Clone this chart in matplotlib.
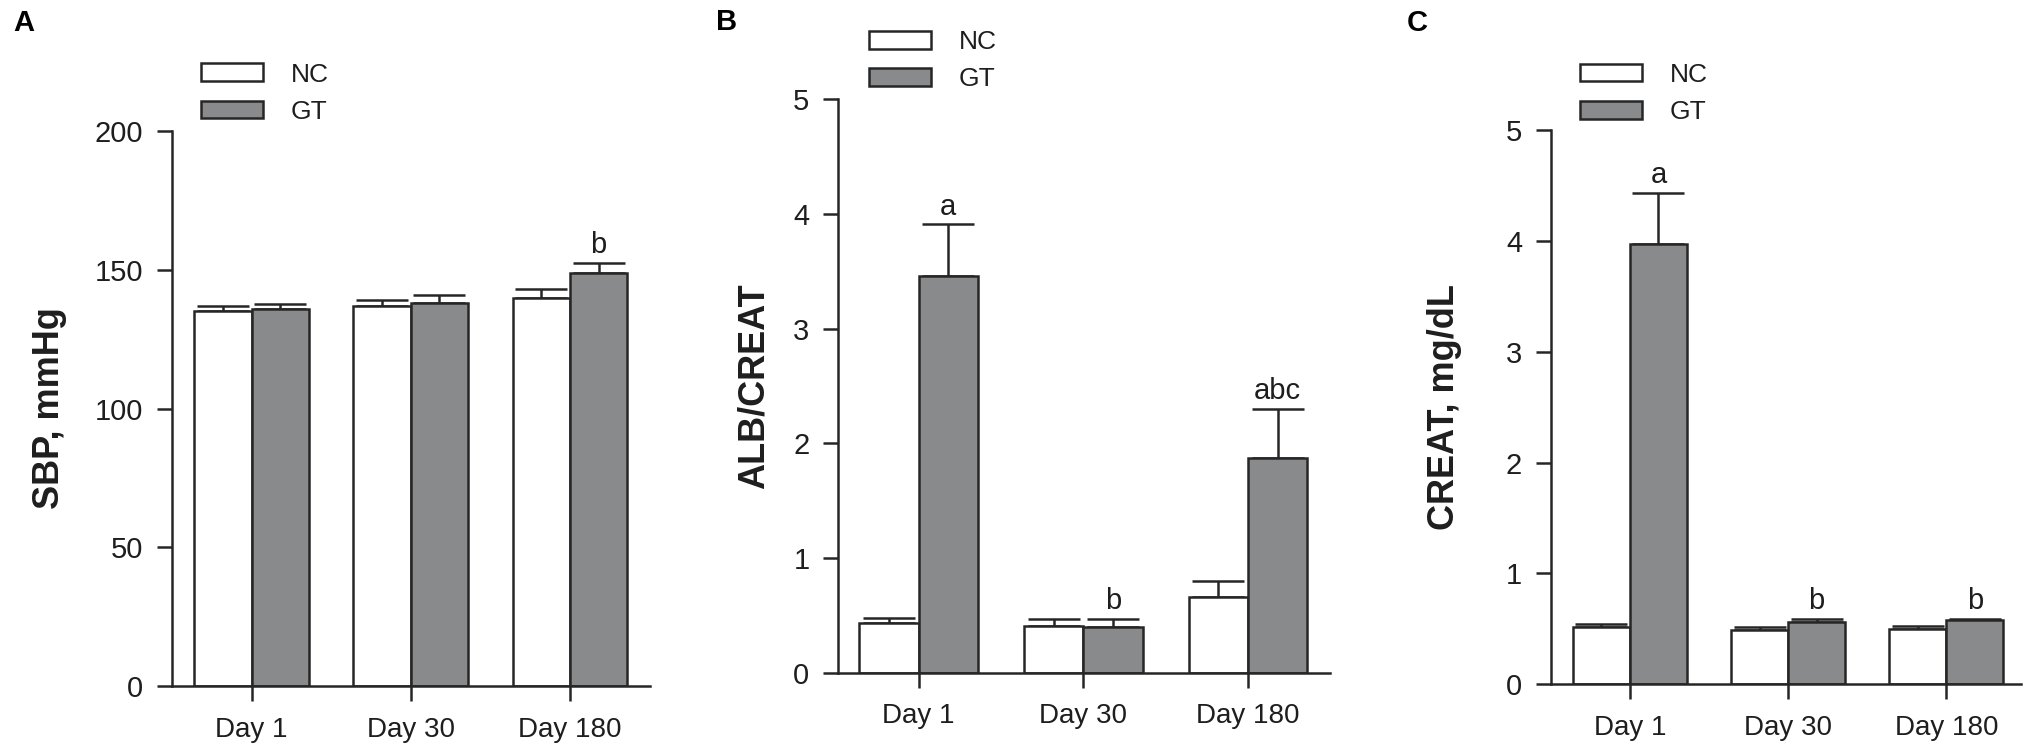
import matplotlib
matplotlib.use("Agg")
import matplotlib.pyplot as plt
import numpy as np

plt.rcParams['font.family'] = ['Liberation Sans', 'DejaVu Sans']

# ---------------- data ----------------
categories = ['Day 1', 'Day 30', 'Day 180']
groups = ['NC', 'GT']

sbp_nc = [135, 137, 140]
sbp_nc_err = [2.0, 2.0, 3.0]
sbp_gt = [136, 138, 149]
sbp_gt_err = [1.8, 3.0, 3.6]
sbp_marks = ['', '', 'b']

alb_nc = [0.43, 0.41, 0.66]
alb_nc_err = [0.05, 0.06, 0.14]
alb_gt = [3.46, 0.40, 1.87]
alb_gt_err = [0.45, 0.07, 0.43]
alb_marks = ['a', 'b', 'abc']

creat_nc = [0.52, 0.49, 0.50]
creat_nc_err = [0.02, 0.03, 0.03]
creat_gt = [3.97, 0.56, 0.58]
creat_gt_err = [0.46, 0.03, 0.01]
creat_marks = ['a', 'b', 'b']

sbp_ticks = [0, 50, 100, 150, 200]
ratio_ticks = [0, 1, 2, 3, 4, 5]

# ---------------- style ----------------
W, H = 2033, 754
EDGE = '#262626'
GRAY = '#898a8c'
LW = 1.8
TXT = '#1e1e1e'

fig = plt.figure(figsize=(W / 100, H / 100), dpi=100)

def px_rect(left, right, bottom, top):
    return [left / W, 1 - bottom / H, (right - left) / W, (bottom - top) / H]

panels = [
    dict(rect=px_rect(172, 649.6, 686, 131), nc=sbp_nc, nce=sbp_nc_err, gt=sbp_gt,
         gte=sbp_gt_err, marks=sbp_marks, ylim=(0, 200), ticks=sbp_ticks,
         ylabel='SBP, mmHg', labx=-0.2575, letter='A', letpos=(24, 23),
         leg=(201, 62.5), xlim=(-0.5, 2.5)),
    dict(rect=px_rect(838, 1330.5, 672.7, 99.3), nc=alb_nc, nce=alb_nc_err, gt=alb_gt,
         gte=alb_gt_err, marks=alb_marks, ylim=(0, 5), ticks=ratio_ticks,
         ylabel='ALB/CREAT', labx=-0.1706, letter='B', letpos=(727, 22),
         leg=(869, 30.2), xlim=(-0.49, 2.5)),
    dict(rect=px_rect(1550.8, 2020.8, 684.3, 130), nc=creat_nc, nce=creat_nc_err, gt=creat_gt,
         gte=creat_gt_err, marks=creat_marks, ylim=(0, 5), ticks=ratio_ticks,
         ylabel='CREAT, mg/dL', labx=-0.226, letter='C', letpos=(1417, 23),
         leg=(1580, 62.8), xlim=(-0.5, 2.47)),
]

bw = 0.36
for p in panels:
    ax = fig.add_axes(p['rect'])
    x = np.arange(len(categories))
    b1 = ax.bar(x - bw / 2, p['nc'], bw, color='white', edgecolor=EDGE, linewidth=LW,
                zorder=2, label=groups[0])
    b2 = ax.bar(x + bw / 2, p['gt'], bw, color=GRAY, edgecolor=EDGE, linewidth=LW,
                zorder=2, label=groups[1])
    for xs, ys, es in ((x - bw / 2, p['nc'], p['nce']), (x + bw / 2, p['gt'], p['gte'])):
        ax.errorbar(xs, ys, yerr=[np.zeros(len(es)), es], fmt='none', ecolor=EDGE,
                    elinewidth=LW, capsize=19, capthick=LW, zorder=1)
    for i, m in enumerate(p['marks']):
        if m:
            top = p['gt'][i] + p['gte'][i]
            ax.annotate(m, (x[i] + bw / 2, top), xytext=(0, 7), textcoords='offset points',
                        ha='center', va='baseline', fontsize=21, color=TXT)

    ax.set_xlim(*p['xlim'])
    ax.set_ylim(*p['ylim'])
    ax.set_yticks(p['ticks'])
    ax.set_xticks(x)
    ax.set_xticklabels(categories)
    for s in ('top', 'right'):
        ax.spines[s].set_visible(False)
    for s in ('left', 'bottom'):
        ax.spines[s].set_linewidth(LW)
        ax.spines[s].set_color(EDGE)
    ax.tick_params(axis='y', length=11, width=LW, color=EDGE, pad=9.6,
                   labelsize=21, labelcolor=TXT)
    ax.tick_params(axis='x', length=11, width=LW, color=EDGE, pad=11,
                   labelsize=20, labelcolor=TXT)
    ax.set_ylabel(p['ylabel'], fontsize=26, fontweight='bold', color=TXT)
    ax.yaxis.label.set_va('center')
    ax.yaxis.label.set_ha('center')
    ax.yaxis.set_label_coords(p['labx'], 0.5)

    fig.text(p['letpos'][0] / W, 1 - p['letpos'][1] / H, p['letter'], fontsize=21,
             fontweight='bold', ha='center', va='center', color='black')

    ax.legend(handles=[b1, b2], loc='upper left',
              bbox_to_anchor=(p['leg'][0] / W, 1 - p['leg'][1] / H),
              bbox_transform=fig.transFigure, frameon=False, fontsize=19,
              handlelength=2.35, handleheight=0.65, handletextpad=1.05,
              labelspacing=0.5, borderpad=0, borderaxespad=0,
              labelcolor=TXT)

fig.savefig('out.png', dpi=100)
